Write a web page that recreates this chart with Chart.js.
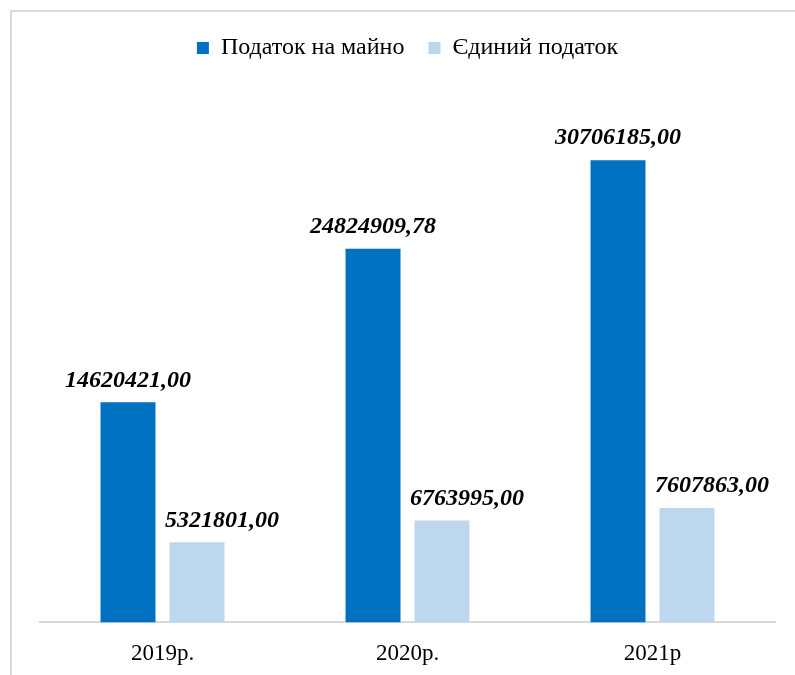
<!DOCTYPE html>
<html>
<head>
<meta charset="utf-8">
<script src="https://cdn.jsdelivr.net/npm/chart.js@4"></script>
<style>
  html, body { margin: 0; padding: 0; background: #fff; overflow: hidden; }
  #wrap { position: relative; width: 795px; height: 675px; overflow: hidden; }
  #frame { position: absolute; left: 10px; top: 10px; width: 800px; height: 700px; border: 2px solid #d9d9d9; box-sizing: border-box; }
  canvas { position: absolute; left: 0; top: 0; }
</style>
</head>
<body>
<div id="wrap">
  <div id="frame"></div>
  <canvas id="chart" width="795" height="686"></canvas>
</div>
<script>
const years = ["2019р.", "2020р.", "2021р"];
const propertyTax = [14620421.00, 24824909.78, 30706185.00];
const singleTax = [5321801.00, 6763995.00, 7607863.00];
const seriesNames = ["Податок на майно", "Єдиний податок"];

function fmt(v) {
  return v.toFixed(2).replace(".", ",");
}

const labelPlugin = {
  id: "valueLabels",
  afterDatasetsDraw(chart) {
    const ctx = chart.ctx;
    ctx.save();
    ctx.font = "bold italic 24px 'Liberation Serif', 'Times New Roman', serif";
    ctx.fillStyle = "#000";
    ctx.textAlign = "center";
    ctx.textBaseline = "bottom";
    chart.data.datasets.forEach((ds, di) => {
      const meta = chart.getDatasetMeta(di);
      meta.data.forEach((bar, i) => {
        // light bars: labels sit a bit to the right, like the original
        const dx = di === 1 ? 25 : 0;
        ctx.fillText(fmt(ds.data[i]), bar.x + dx, bar.y - 10);
      });
    });
    ctx.restore();
  }
};

new Chart(document.getElementById("chart"), {
  type: "bar",
  data: {
    labels: years,
    datasets: [
      { label: seriesNames[0], data: propertyTax, backgroundColor: "#0070C0" },
      { label: seriesNames[1], data: singleTax, backgroundColor: "#BDD7EE" }
    ]
  },
  options: {
    responsive: false,
    animation: false,
    devicePixelRatio: 1,
    layout: { padding: { left: 40, right: 20, top: 12, bottom: 0 } },
    datasets: { bar: { categoryPercentage: 0.563, barPercentage: 0.797 } },
    plugins: {
      legend: {
        position: "top",
        labels: {
          boxWidth: 12,
          boxHeight: 12,
          padding: 24,
          color: "#000",
          font: { family: "'Liberation Serif', 'Times New Roman', serif", size: 24 }
        }
      },
      tooltip: { enabled: false }
    },
    scales: {
      x: {
        grid: { display: false, drawTicks: false },
        border: { color: "#d9d9d9", width: 2 },
        ticks: {
          color: "#000",
          padding: 18,
          font: { family: "'Liberation Serif', 'Times New Roman', serif", size: 23 }
        }
      },
      y: {
        display: false,
        min: 0,
        max: 36700000
      }
    }
  },
  plugins: [labelPlugin]
});
</script>
</body>
</html>
